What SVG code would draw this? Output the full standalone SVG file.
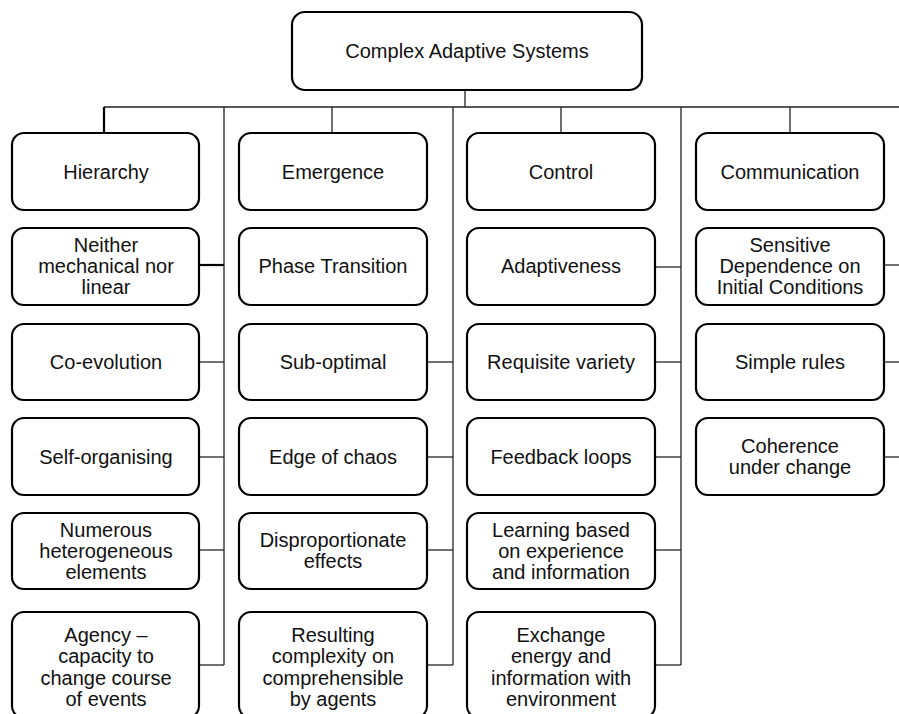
<svg xmlns="http://www.w3.org/2000/svg" width="899" height="714" viewBox="0 0 899 714">
  <style>
    .box { fill: #ffffff; stroke: #000000; stroke-width: 2.2; }
    .lbl { font-family: "Liberation Sans", Arial, sans-serif; font-size: 20px; fill: #111111; text-anchor: middle; }
    .thick { stroke: #000000; stroke-width: 2.2; fill: none; }
    .thin { stroke: #222222; stroke-width: 1.3; fill: none; }
  </style>
  <rect width="899" height="714" fill="#ffffff"/>

  <!-- connectors -->
  <g id="connectors">
    <!-- root stem and main bar -->
    <path class="thin" d="M465 90 V107"/>
    <path class="thin" d="M104 107 H912"/>
    <!-- stems to category headers -->
    <path class="thick" d="M104 107 V133"/>
    <path class="thin" d="M332 107 V133"/>
    <path class="thin" d="M561 107 V133"/>
    <path class="thin" d="M790 107 V133"/>
    <!-- spines -->
    <path class="thin" d="M224 107 V665"/>
    <path class="thin" d="M453 107 V665"/>
    <path class="thin" d="M681 107 V665"/>
    <path class="thin" d="M910 107 V457"/>
    <!-- Hierarchy branches -->
    <path class="thick" d="M199 265 H224"/>
    <path class="thin" d="M199 362 H224"/>
    <path class="thin" d="M199 457 H224"/>
    <path class="thin" d="M199 550 H224"/>
    <path class="thin" d="M199 665 H224"/>
    <!-- Emergence branches -->
    <path class="thin" d="M427 362 H453"/>
    <path class="thin" d="M427 457 H453"/>
    <path class="thin" d="M427 550 H453"/>
    <path class="thin" d="M427 665 H453"/>
    <!-- Control branches -->
    <path class="thin" d="M655 267 H681"/>
    <path class="thin" d="M655 362 H681"/>
    <path class="thin" d="M655 457 H681"/>
    <path class="thin" d="M655 550 H681"/>
    <path class="thin" d="M655 665 H681"/>
    <!-- Communication branches -->
    <path class="thin" d="M884 265 H910"/>
    <path class="thin" d="M884 362 H910"/>
    <path class="thin" d="M884 457 H910"/>
  </g>

  <!-- root -->
  <g id="root">
    <rect class="box" x="292" y="12" width="350" height="78" rx="13"/>
    <text class="lbl" x="467" y="58">Complex Adaptive Systems</text>
  </g>

  <!-- Hierarchy column -->
  <g id="hierarchy">
    <rect class="box" x="12" y="133" width="187" height="77" rx="12"/>
    <text class="lbl" x="106" y="179">Hierarchy</text>
  </g>
  <g id="neither-mechanical">
    <rect class="box" x="12" y="228" width="187" height="77" rx="12"/>
    <text class="lbl" x="106" y="252">Neither</text>
    <text class="lbl" x="106" y="273">mechanical nor</text>
    <text class="lbl" x="106" y="294">linear</text>
  </g>
  <g id="co-evolution">
    <rect class="box" x="12" y="324" width="187" height="76" rx="12"/>
    <text class="lbl" x="106" y="369">Co-evolution</text>
  </g>
  <g id="self-organising">
    <rect class="box" x="12" y="418" width="187" height="77" rx="12"/>
    <text class="lbl" x="106" y="464">Self-organising</text>
  </g>
  <g id="numerous-elements">
    <rect class="box" x="12" y="513" width="187" height="76" rx="12"/>
    <text class="lbl" x="106" y="537">Numerous</text>
    <text class="lbl" x="106" y="558">heterogeneous</text>
    <text class="lbl" x="106" y="579">elements</text>
  </g>
  <g id="agency">
    <rect class="box" x="12" y="612" width="187" height="106" rx="12"/>
    <text class="lbl" x="106" y="642">Agency –</text>
    <text class="lbl" x="106" y="663">capacity to</text>
    <text class="lbl" x="106" y="685">change course</text>
    <text class="lbl" x="106" y="706">of events</text>
  </g>

  <!-- Emergence column -->
  <g id="emergence">
    <rect class="box" x="239" y="133" width="188" height="77" rx="12"/>
    <text class="lbl" x="333" y="179">Emergence</text>
  </g>
  <g id="phase-transition">
    <rect class="box" x="239" y="228" width="188" height="77" rx="12"/>
    <text class="lbl" x="333" y="273">Phase Transition</text>
  </g>
  <g id="sub-optimal">
    <rect class="box" x="239" y="324" width="188" height="76" rx="12"/>
    <text class="lbl" x="333" y="369">Sub-optimal</text>
  </g>
  <g id="edge-of-chaos">
    <rect class="box" x="239" y="418" width="188" height="77" rx="12"/>
    <text class="lbl" x="333" y="464">Edge of chaos</text>
  </g>
  <g id="disproportionate-effects">
    <rect class="box" x="239" y="513" width="188" height="76" rx="12"/>
    <text class="lbl" x="333" y="547">Disproportionate</text>
    <text class="lbl" x="333" y="568">effects</text>
  </g>
  <g id="resulting-complexity">
    <rect class="box" x="239" y="612" width="188" height="106" rx="12"/>
    <text class="lbl" x="333" y="642">Resulting</text>
    <text class="lbl" x="333" y="663">complexity on</text>
    <text class="lbl" x="333" y="685">comprehensible</text>
    <text class="lbl" x="333" y="706">by agents</text>
  </g>

  <!-- Control column -->
  <g id="control">
    <rect class="box" x="467" y="133" width="188" height="77" rx="12"/>
    <text class="lbl" x="561" y="179">Control</text>
  </g>
  <g id="adaptiveness">
    <rect class="box" x="467" y="228" width="188" height="77" rx="12"/>
    <text class="lbl" x="561" y="273">Adaptiveness</text>
  </g>
  <g id="requisite-variety">
    <rect class="box" x="467" y="324" width="188" height="76" rx="12"/>
    <text class="lbl" x="561" y="369">Requisite variety</text>
  </g>
  <g id="feedback-loops">
    <rect class="box" x="467" y="418" width="188" height="77" rx="12"/>
    <text class="lbl" x="561" y="464">Feedback loops</text>
  </g>
  <g id="learning">
    <rect class="box" x="467" y="513" width="188" height="76" rx="12"/>
    <text class="lbl" x="561" y="537">Learning based</text>
    <text class="lbl" x="561" y="558">on experience</text>
    <text class="lbl" x="561" y="579">and information</text>
  </g>
  <g id="exchange">
    <rect class="box" x="467" y="612" width="188" height="106" rx="12"/>
    <text class="lbl" x="561" y="642">Exchange</text>
    <text class="lbl" x="561" y="663">energy and</text>
    <text class="lbl" x="561" y="685">information with</text>
    <text class="lbl" x="561" y="706">environment</text>
  </g>

  <!-- Communication column -->
  <g id="communication">
    <rect class="box" x="696" y="133" width="188" height="77" rx="12"/>
    <text class="lbl" x="790" y="179">Communication</text>
  </g>
  <g id="sensitive-dependence">
    <rect class="box" x="696" y="228" width="188" height="77" rx="12"/>
    <text class="lbl" x="790" y="252">Sensitive</text>
    <text class="lbl" x="790" y="273">Dependence on</text>
    <text class="lbl" x="790" y="294">Initial Conditions</text>
  </g>
  <g id="simple-rules">
    <rect class="box" x="696" y="324" width="188" height="76" rx="12"/>
    <text class="lbl" x="790" y="369">Simple rules</text>
  </g>
  <g id="coherence">
    <rect class="box" x="696" y="418" width="188" height="77" rx="12"/>
    <text class="lbl" x="790" y="453">Coherence</text>
    <text class="lbl" x="790" y="474">under change</text>
  </g>
</svg>
